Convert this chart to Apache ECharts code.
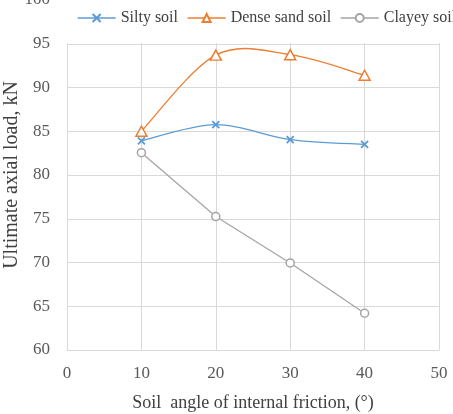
<!DOCTYPE html>
<html><head><meta charset="utf-8">
<script src="https://cdn.jsdelivr.net/npm/echarts@6/dist/echarts.min.js"></script>
<style>html,body{margin:0;padding:0;background:#fff}#c{width:453px;height:414px}</style>
</head><body><div id="c"></div>
<script>
const angles = [10, 20, 30, 40];
const silty = [83.9, 85.75, 84.05, 83.5];
const denseSand = [85.0, 93.7, 93.75, 91.4];
const clayey = [82.55, 75.25, 69.95, 64.2];
const seriesNames = ['Silty soil', 'Dense sand soil', 'Clayey soil'];
const xTitle = 'Soil  angle of internal friction, (°)';
const yTitle = 'Ultimate axial load, kN';

const font = '"Liberation Serif", "Times New Roman", serif';
const colors = ['#5B9BD5', '#ED7D31', '#A5A5A5'];
const pair = arr => angles.map((a, i) => [a, arr[i]]);

// Catmull-Rom style smooth curve (like a spreadsheet smoothed line), via axis scales
function smoothCurve(values, color) {
  return {
    type: 'custom', name: '_curve', coordinateSystem: 'cartesian2d',
    data: pair(values), z: 1, silent: true, clip: true,
    renderItem: function (params, api) {
      if (params.dataIndex !== 0) return null;
      const p = pair(values).map(d => api.coord(d));
      let d = 'M' + p[0][0] + ' ' + p[0][1];
      for (let i = 0; i < p.length - 1; i++) {
        const p0 = p[Math.max(i - 1, 0)], p1 = p[i], p2 = p[i + 1], p3 = p[Math.min(i + 2, p.length - 1)];
        const c1 = [p1[0] + (p2[0] - p0[0]) / 6, p1[1] + (p2[1] - p0[1]) / 6];
        const c2 = [p2[0] - (p3[0] - p1[0]) / 6, p2[1] - (p3[1] - p1[1]) / 6];
        d += ' C' + c1[0] + ' ' + c1[1] + ' ' + c2[0] + ' ' + c2[1] + ' ' + p2[0] + ' ' + p2[1];
      }
      return {type: 'path', shape: {pathData: d}, style: {fill: 'none', stroke: color, lineWidth: 1.3}};
    }
  };
}

const chart = echarts.init(document.getElementById('c'), null, {renderer: 'canvas'});
chart.setOption({
  animation: false,
  backgroundColor: '#fff',
  grid: {left: 67, right: 14, top: 0, bottom: 64, containLabel: false, outerBoundsMode: 'none'},
  legend: {
    top: 0, left: 67, width: 700,
    padding: [10, 40, 17, 10],
    backgroundColor: '#fff',
    itemWidth: 38, itemHeight: 10, itemGap: 9,
    textStyle: {fontFamily: font, fontSize: 16, color: '#404040'},
    data: seriesNames.map((n, i) => ({name: n, lineStyle: {color: colors[i], width: 1.3, opacity: 1}})),
    z: 10
  },
  xAxis: {
    type: 'value', min: 0, max: 50, interval: 10,
    name: xTitle, nameLocation: 'middle', nameGap: 44,
    nameTextStyle: {fontFamily: font, fontSize: 18, color: '#404040'},
    axisLine: {show: true, lineStyle: {color: '#d9d9d9'}},
    axisTick: {show: false},
    axisLabel: {fontFamily: font, fontSize: 17, color: '#595959', margin: 15},
    splitLine: {show: true, lineStyle: {color: '#d9d9d9', width: 1}}
  },
  yAxis: {
    type: 'value', min: 60, max: 100, interval: 5,
    name: yTitle, nameLocation: 'middle', nameGap: 45, nameRotate: 90, nameMoveOverlap: false,
    nameTextStyle: {fontFamily: font, fontSize: 20, color: '#404040'},
    axisLine: {show: true, lineStyle: {color: '#d9d9d9'}},
    axisTick: {show: false},
    axisLabel: {fontFamily: font, fontSize: 17, color: '#595959', margin: 17},
    splitLine: {show: true, lineStyle: {color: '#d9d9d9', width: 1}}
  },
  series: [
    smoothCurve(silty, colors[0]),
    smoothCurve(denseSand, colors[1]),
    {
      name: seriesNames[0], type: 'line', data: pair(silty), z: 3,
      symbol: 'path://M0,0L10,10M10,0L0,10', symbolSize: 7,
      lineStyle: {color: colors[0], width: 1.3, opacity: 0},
      itemStyle: {color: colors[0], borderColor: colors[0], borderWidth: 1.8}
    },
    {
      name: seriesNames[1], type: 'line', data: pair(denseSand), z: 3,
      symbol: 'triangle', symbolSize: [11, 10],
      lineStyle: {color: colors[1], width: 1.3, opacity: 0},
      itemStyle: {color: '#fff', borderColor: colors[1], borderWidth: 1.5}
    },
    {
      name: seriesNames[2], type: 'line', data: pair(clayey), smooth: false, z: 3,
      symbol: 'circle', symbolSize: 8,
      lineStyle: {color: colors[2], width: 1.3},
      itemStyle: {color: '#fff', borderColor: colors[2], borderWidth: 1.5}
    }
  ]
});
</script></body></html>
